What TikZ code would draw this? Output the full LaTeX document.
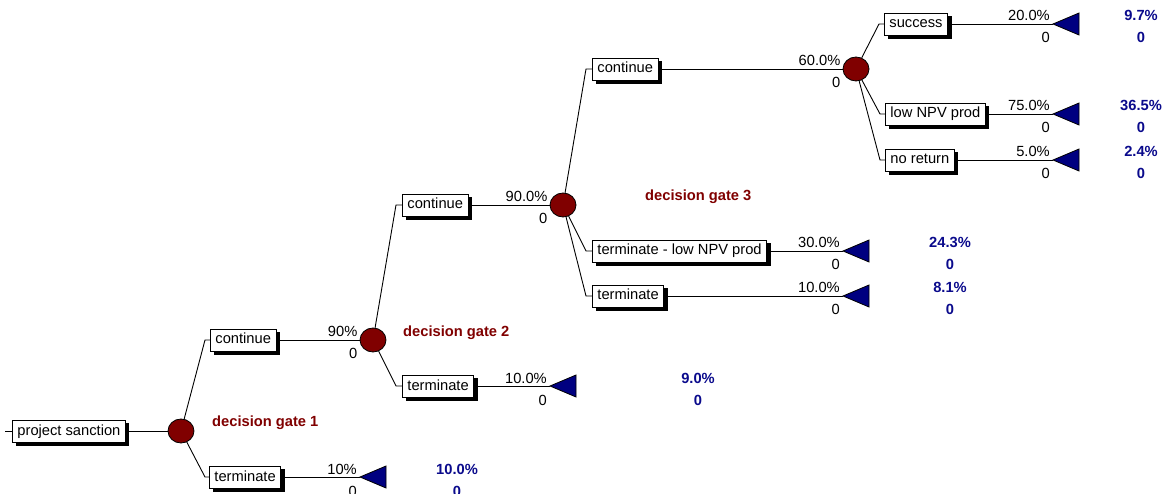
\documentclass[tikz,border=0pt]{standalone}
\usepackage{fontspec}
\setmainfont{Liberation Sans}
\usetikzlibrary{calc,shapes.geometric}
\definecolor{gatered}{RGB}{128,0,0}
\definecolor{navytri}{RGB}{0,0,128}
\definecolor{valblue}{RGB}{10,10,140}
\begin{document}
\begin{tikzpicture}[x=1pt,y=-1pt,
  every node/.style={font=\fontsize{14.7}{17}\selectfont},
  box/.style={draw=black, line width=0.9pt, fill=white, inner xsep=5pt, inner ysep=0pt,
    minimum height=22pt, text height=10.5pt, text depth=2.5pt, anchor=west,
    preaction={fill=black, draw=black, transform canvas={shift={(3.5pt,-3.5pt)}}}},
  chance/.style={ellipse, draw=black, line width=0.8pt, fill=gatered, minimum width=26pt, minimum height=24pt, inner sep=0pt},
  tri/.style={draw=black, fill=navytri, line width=0.8pt, line join=miter},
  conn/.style={draw=black, line width=0.9pt},
  prob/.style={anchor=base east, inner sep=0pt},
  gate/.style={anchor=west, inner sep=0pt, text=gatered, font=\fontsize{14.7}{17}\selectfont\bfseries},
  val/.style={anchor=base, inner sep=0pt, text=valblue, font=\fontsize{14.7}{17}\selectfont\bfseries}
]
\useasboundingbox (0,0) rectangle (1165,494);

% level 1
\coordinate (start) at (5,431);
\node[box] (root) at (12,431) {project sanction};
\node[chance] (c1) at (181,431) {};
\draw[conn] (start) -- (root.west);
\draw[conn] (root.east) -- (c1);
\node[gate] (g1) at (212,423) {decision gate 1};

% level 2
\node[box] (b21) at (210,340) {continue};
\node[box] (b22) at (209,477) {terminate};
\draw[conn] (c1) -- ([xshift=-5pt]b21.west) -- (b21.west);
\draw[conn] (c1) -- ([xshift=-4pt]b22.west) -- (b22.west);
\node[chance] (c2) at (373,340) {};
\draw[conn] (b21.east) -- (c2);
\node[prob] (p21) at ($(c2.west)+(-2,-3)$) {90\%};
\node[prob] (z21) at ($(c2.west)+(-2,19)$) {0};
\coordinate (t22) at (360,477);
\draw[conn] (b22.east) -- (t22);
\draw[tri] (t22) -- ++(26,-11) -- ++(0,22) -- cycle;
\node[prob] (p22) at ($(t22)+(-3,-3)$) {10\%};
\node[prob] (z22) at ($(t22)+(-3,19)$) {0};
\node[val] (v22) at (457,474) {10.0\%};
\node[val] (w22) at (457,496) {0};
\node[gate] (g2) at (403,333) {decision gate 2};

% level 3
\node[box] (b31) at (402,205) {continue};
\node[box] (b32) at (402,386) {terminate};
\draw[conn] (c2) -- ([xshift=-6pt]b31.west) -- (b31.west);
\draw[conn] (c2) -- ([xshift=-6pt]b32.west) -- (b32.west);
\node[chance] (c3) at (563,205) {};
\draw[conn] (b31.east) -- (c3);
\node[prob] (p31) at ($(c3.west)+(-2,-3)$) {90.0\%};
\node[prob] (z31) at ($(c3.west)+(-2,19)$) {0};
\coordinate (t32) at (550,386);
\draw[conn] (b32.east) -- (t32);
\draw[tri] (t32) -- ++(26,-11) -- ++(0,22) -- cycle;
\node[prob] (p32) at ($(t32)+(-3,-3)$) {10.0\%};
\node[prob] (z32) at ($(t32)+(-3,19)$) {0};
\node[val] (v32) at (698,383) {9.0\%};
\node[val] (w32) at (698,405) {0};
\node[gate] (g3) at (645,197) {decision gate 3};

% level 4
\node[box] (b41) at (592,69) {continue};
\node[box] (b42) at (592,251) {terminate - low NPV prod};
\node[box] (b43) at (592,296) {terminate};
\draw[conn] (c3) -- ([xshift=-6pt]b41.west) -- (b41.west);
\draw[conn] (c3) -- ([xshift=-6pt]b42.west) -- (b42.west);
\draw[conn] (c3) -- ([xshift=-6pt]b43.west) -- (b43.west);
\node[chance] (c4) at (856,69) {};
\draw[conn] (b41.east) -- (c4);
\node[prob] (p41) at ($(c4.west)+(-2,-3)$) {60.0\%};
\node[prob] (z41) at ($(c4.west)+(-2,19)$) {0};
\coordinate (t42) at (843,251);
\draw[conn] (b42.east) -- (t42);
\draw[tri] (t42) -- ++(26,-11) -- ++(0,22) -- cycle;
\node[prob] (p42) at ($(t42)+(-3,-3)$) {30.0\%};
\node[prob] (z42) at ($(t42)+(-3,19)$) {0};
\node[val] (v42) at (950,248) {24.3\%};
\node[val] (w42) at (950,270) {0};
\coordinate (t43) at (843,296);
\draw[conn] (b43.east) -- (t43);
\draw[tri] (t43) -- ++(26,-11) -- ++(0,22) -- cycle;
\node[prob] (p43) at ($(t43)+(-3,-3)$) {10.0\%};
\node[prob] (z43) at ($(t43)+(-3,19)$) {0};
\node[val] (v43) at (950,293) {8.1\%};
\node[val] (w43) at (950,315) {0};

% level 5
\node[box] (b51) at (884,24) {success};
\node[box] (b52) at (885,114) {low NPV prod};
\node[box] (b53) at (885,160) {no return};
\draw[conn] (c4) -- ([xshift=-5pt]b51.west) -- (b51.west);
\draw[conn] (c4) -- ([xshift=-5pt]b52.west) -- (b52.west);
\draw[conn] (c4) -- ([xshift=-5pt]b53.west) -- (b53.west);
\coordinate (t51) at (1053,24);
\coordinate (t52) at (1053,114);
\coordinate (t53) at (1053,160);
\draw[conn] (b51.east) -- (t51);
\draw[conn] (b52.east) -- (t52);
\draw[conn] (b53.east) -- (t53);
\draw[tri] (t51) -- ++(26,-11) -- ++(0,22) -- cycle;
\draw[tri] (t52) -- ++(26,-11) -- ++(0,22) -- cycle;
\draw[tri] (t53) -- ++(26,-11) -- ++(0,22) -- cycle;
\node[prob] (p51) at ($(t51)+(-3,-3)$) {20.0\%};
\node[prob] (z51) at ($(t51)+(-3,19)$) {0};
\node[prob] (p52) at ($(t52)+(-3,-3)$) {75.0\%};
\node[prob] (z52) at ($(t52)+(-3,19)$) {0};
\node[prob] (p53) at ($(t53)+(-3,-3)$) {5.0\%};
\node[prob] (z53) at ($(t53)+(-3,19)$) {0};
\node[val] (v51) at (1141,21) {9.7\%};
\node[val] (w51) at (1141,43) {0};
\node[val] (v52) at (1141,111) {36.5\%};
\node[val] (w52) at (1141,133) {0};
\node[val] (v53) at (1141,157) {2.4\%};
\node[val] (w53) at (1141,179) {0};
\end{tikzpicture}
\end{document}
